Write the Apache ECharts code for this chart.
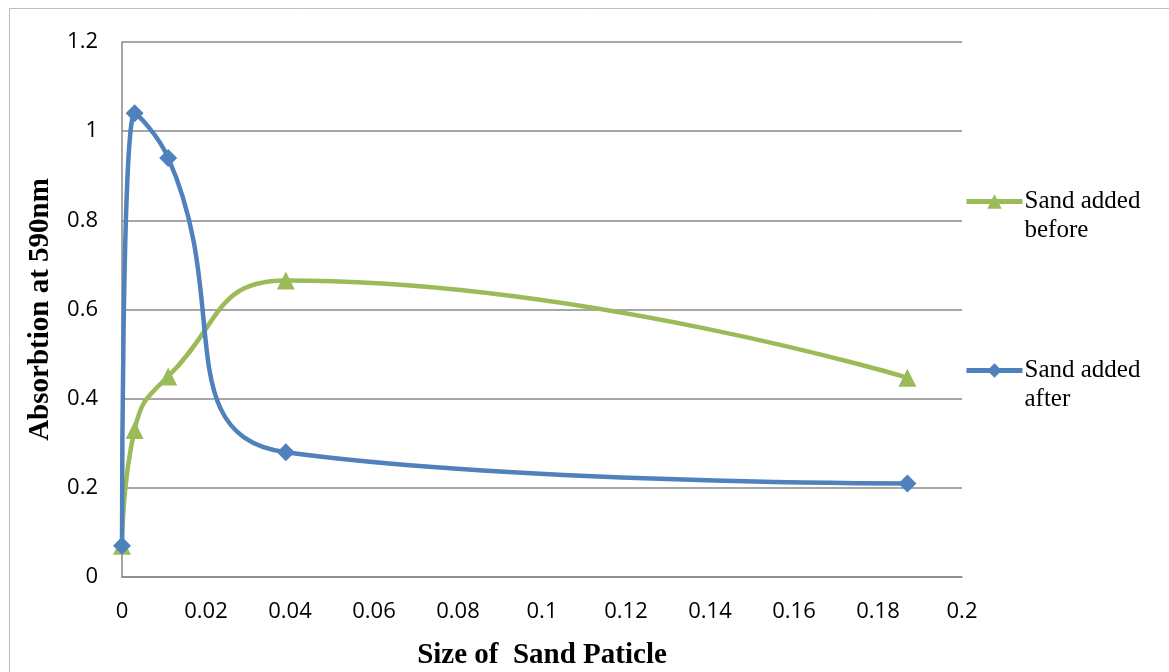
<!DOCTYPE html>
<html>
<head>
<meta charset="utf-8">
<script src="https://cdn.jsdelivr.net/npm/echarts@6/dist/echarts.min.js"></script>
<style>
  html, body { margin: 0; padding: 0; background: #fff; }
  #chart { width: 1169px; height: 672px; }
</style>
</head>
<body>
<div id="chart"></div>
<script>
// ----------------------
// Dados
// ----------------------
const sizes = [0, 0.003, 0.011, 0.039, 0.187];
const before = [0.07, 0.33, 0.45, 0.665, 0.447];
const after = [0.07, 1.04, 0.94, 0.28, 0.21];

const COLOR_GREEN = '#9bbb59';
const COLOR_BLUE = '#4f81bd';

function pairs(xs, ys) {
  return xs.map((x, i) => [x, ys[i]]);
}

const chart = echarts.init(document.getElementById('chart'));
chart.setOption({
  animation: false,
  graphic: [{
    type: 'rect',
    shape: { x: 9.5, y: 8.5, width: 1200, height: 700 },
    style: { fill: 'none', stroke: '#bfbfbf', lineWidth: 1 }
  }],
  grid: { left: 122, top: 42, right: 207, bottom: 95, outerBoundsMode: 'none', containLabel: false },
  legend: {
    orient: 'vertical',
    left: 964,
    top: 158,
    padding: 0,
    itemGap: 82,
    itemWidth: 56,
    itemHeight: 18,
    lineStyle: { width: 5 },
    textStyle: { fontFamily: 'Liberation Serif', fontSize: 25, color: '#000', lineHeight: 29, padding: [0, 0, 0, -3] },
    // primeira linha vazia para o ícone ficar alinhado com a primeira linha do texto
    formatter: name => ' \n' + name.replace('added ', 'added\n'),
    data: ['Sand added before', 'Sand added after']
  },
  xAxis: {
    type: 'value',
    min: 0,
    max: 0.2,
    interval: 0.02,
    name: 'Size of  Sand Paticle',
    nameLocation: 'middle',
    nameGap: 64,
    nameTextStyle: { fontFamily: 'Liberation Serif', fontWeight: 'bold', fontSize: 29, color: '#000' },
    axisLine: { lineStyle: { color: '#898989', width: 1.5 } },
    axisTick: { show: false },
    axisLabel: { fontFamily: 'Open Sans', fontSize: 22, color: '#000', margin: 24 },
    splitLine: { show: false }
  },
  yAxis: {
    type: 'value',
    min: 0,
    max: 1.2,
    interval: 0.2,
    name: 'Absorbtion at 590nm',
    nameLocation: 'middle',
    nameGap: 67,
    nameTextStyle: { fontFamily: 'Liberation Serif', fontWeight: 'bold', fontSize: 29, color: '#000' },
    axisLine: { show: true, lineStyle: { color: '#898989', width: 1.5 } },
    axisTick: { show: false },
    axisLabel: { fontFamily: 'Open Sans', fontSize: 22, color: '#000', margin: 24 },
    splitLine: { lineStyle: { color: '#898989', width: 1.5 } }
  },
  series: [
    {
      name: 'Sand added before',
      type: 'line',
      smooth: 0.5,
      data: pairs(sizes, before),
      symbol: 'triangle',
      symbolSize: 18,
      lineStyle: { color: COLOR_GREEN, width: 4.5 },
      itemStyle: { color: COLOR_GREEN }
    },
    {
      name: 'Sand added after',
      type: 'line',
      smooth: 0.5,
      data: pairs(sizes, after),
      symbol: 'diamond',
      symbolSize: 18,
      lineStyle: { color: COLOR_BLUE, width: 4.5 },
      itemStyle: { color: COLOR_BLUE }
    }
  ]
});
</script>
</body>
</html>
